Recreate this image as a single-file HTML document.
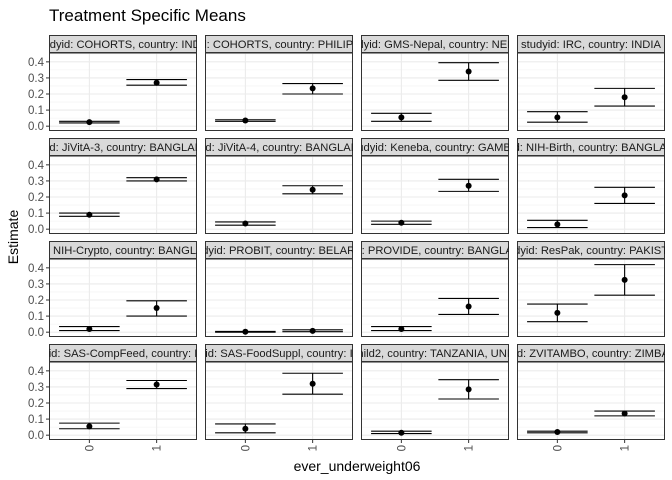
<!DOCTYPE html>
<html><head><meta charset="utf-8"><style>
body{margin:0;background:#fff;}
svg{display:block;font-family:"Liberation Sans",sans-serif;}
</style></head><body>
<svg id="chart" width="672" height="480"></svg>
<script>
const studies=["studyid: COHORTS, country: INDIA","studyid: COHORTS, country: PHILIPPINES","studyid: GMS-Nepal, country: NEPAL","studyid: IRC, country: INDIA","studyid: JiVitA-3, country: BANGLADESH","studyid: JiVitA-4, country: BANGLADESH","studyid: Keneba, country: GAMBIA","studyid: NIH-Birth, country: BANGLADESH","studyid: NIH-Crypto, country: BANGLADESH","studyid: PROBIT, country: BELARUS","studyid: PROVIDE, country: BANGLADESH","studyid: ResPak, country: PAKISTAN","studyid: SAS-CompFeed, country: INDIA","studyid: SAS-FoodSuppl, country: INDIA","studyid: Tanzania Child2, country: TANZANIA, UNITED REPUBLIC OF","studyid: ZVITAMBO, country: ZIMBABWE"];
const categories=["0","1"];
const est0=[0.025,0.035,0.055,0.055,0.09,0.035,0.04,0.03,0.02,0.003,0.02,0.12,0.055,0.04,0.015,0.02];
const lo0=[0.02,0.03,0.03,0.025,0.08,0.025,0.03,0.01,0.01,0.0,0.01,0.065,0.04,0.015,0.01,0.015];
const hi0=[0.03,0.04,0.08,0.09,0.10,0.045,0.05,0.055,0.035,0.005,0.035,0.175,0.075,0.07,0.025,0.025];
const est1=[0.27,0.235,0.34,0.18,0.31,0.245,0.27,0.21,0.15,0.008,0.16,0.325,0.315,0.32,0.285,0.135];
const lo1=[0.255,0.2,0.285,0.125,0.30,0.22,0.235,0.16,0.10,0.003,0.11,0.23,0.29,0.255,0.225,0.12];
const hi1=[0.29,0.265,0.395,0.235,0.32,0.27,0.31,0.26,0.195,0.015,0.21,0.42,0.34,0.385,0.345,0.15];
const yTicks=[0,0.1,0.2,0.3,0.4];
const yTickLabels=["0.0","0.1","0.2","0.3","0.4"];

const NS="http://www.w3.org/2000/svg";
const svg=document.getElementById('chart');
function el(tag,attrs,parent){const e=document.createElementNS(NS,tag);for(const k in attrs)e.setAttribute(k,attrs[k]);(parent||svg).appendChild(e);return e;}
const colX=[49,205,361,517],PW=148,rowY=[35,138,241,344],SH=18,PH=78;
const yMin=-0.03,yMax=0.455;
function yScale(v,top){return top+PH-(v-yMin)/(yMax-yMin)*PH;}
function xScale(i,left){return left+PW*((i+1)-0.4)/2.2;}

const t=el('text',{x:49,y:21,'font-size':17,fill:'#000'});t.textContent="Treatment Specific Means";

const yt=el('text',{x:0,y:0,'font-size':14,'text-anchor':'middle',transform:'translate(18,237) rotate(-90)'});yt.textContent="Estimate";

const xt=el('text',{x:357,y:471,'font-size':14,'text-anchor':'middle'});xt.textContent="ever_underweight06";


studies.forEach((s,k)=>{
  const r=Math.floor(k/4),c=k%4,L=colX[c],ST=rowY[r],T=ST+SH;
  const g=el('g',{});
  
  const cid='cl'+k;
  const cp=el('clipPath',{id:cid},g);el('rect',{x:L,y:ST,width:PW,height:SH},cp);
  const sr=el('rect',{x:L+0.5,y:ST+0.5,width:PW-1,height:SH-1,fill:'#d9d9d9',stroke:'#333','stroke-width':1},g);
  
  const st=el('text',{x:L+PW/2,y:ST+13,'font-size':11.2,'text-anchor':'middle',fill:'#1a1a1a','clip-path':'url(#'+cid+')'},g);st.textContent=s;
  
  for(let v=-0.05;v<=0.45;v+=0.1){const y=yScale(v,T);if(y>T&&y<T+PH)el('line',{x1:L,x2:L+PW,y1:y,y2:y,stroke:'#f0f0f0','stroke-width':0.6},g);}
  yTicks.forEach(v=>{const y=yScale(v,T);el('line',{x1:L,x2:L+PW,y1:y,y2:y,stroke:'#ebebeb','stroke-width':1.1},g);});
  categories.forEach((cat,i)=>{const x=xScale(i,L);el('line',{x1:x,x2:x,y1:T,y2:T+PH,stroke:'#ebebeb','stroke-width':1.1},g);});
  const series=[[est0[k],lo0[k],hi0[k]],[est1[k],lo1[k],hi1[k]]];
  series.forEach((d,i)=>{
    const x=xScale(i,L),hw=PW*0.45/2.2;
    const eb=el('path',{d:`M${x-hw},${yScale(d[2],T)}H${x+hw}M${x},${yScale(d[2],T)}V${yScale(d[1],T)}M${x-hw},${yScale(d[1],T)}H${x+hw}`,stroke:'#000','stroke-width':1.1,fill:'none'},g);
    
    const p=el('circle',{cx:x,cy:yScale(d[0],T),r:3,fill:'#000'},g);
    
  });
  el('rect',{x:L+0.5,y:T,width:PW-1,height:PH-0.5,fill:'none',stroke:'#333','stroke-width':1},g);
  if(c===0){yTicks.forEach((v,j)=>{const y=yScale(v,T);el('line',{x1:L-3,x2:L,y1:y,y2:y,stroke:'#333'},g);
    const tl=el('text',{x:L-5,y:y+4,'font-size':11.5,'text-anchor':'end',fill:'#4d4d4d'},g);tl.textContent=yTickLabels[j];
    });}
  if(r===3){categories.forEach((cat,i)=>{const x=xScale(i,L),b=T+PH;el('line',{x1:x,x2:x,y1:b,y2:b+3,stroke:'#333'},g);
    const tl=el('text',{x:0,y:0,'font-size':11.5,'text-anchor':'end',fill:'#4d4d4d',transform:`translate(${x+4},${b+5}) rotate(-90)`},g);tl.textContent=cat;
    });}
});
</script>
</body></html>
